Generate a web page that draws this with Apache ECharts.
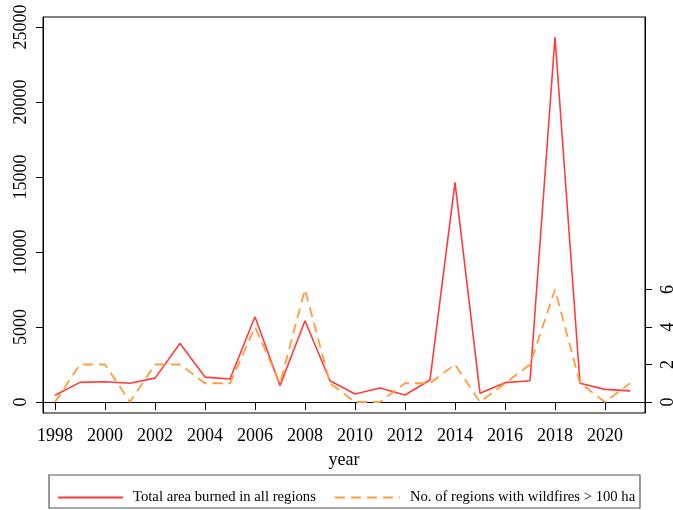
<!DOCTYPE html>
<html>
<head>
<meta charset="utf-8">
<script src="https://cdn.jsdelivr.net/npm/echarts@6/dist/echarts.min.js"></script>
<style>html,body{margin:0;padding:0;background:#fff;}#c{width:673px;height:510px;}</style>
</head>
<body>
<div id="c"></div>
<script>
const years = [1998,1999,2000,2001,2002,2003,2004,2005,2006,2007,2008,2009,2010,2011,2012,2013,2014,2015,2016,2017,2018,2019,2020,2021];
const areaBurned = [450,1310,1350,1250,1590,3900,1660,1530,5680,1090,5420,1420,530,930,470,1470,14640,580,1290,1420,24330,1250,840,740];
const regionsOver100 = [0,2,2,0,2,2,1,1,4,1,6,1,0,0,1,1,2,0,1,2,6,1,0,1];
const xTicks = [1998,2000,2002,2004,2006,2008,2010,2012,2014,2016,2018,2020];
const leftTicks = [0,5000,10000,15000,20000,25000];
const rightTicks = [0,2,4,6];
const seriesNames = ['Total area burned in all regions','No. of regions with wildfires > 100 ha'];

const font = 'Liberation Serif';
const chart = echarts.init(document.getElementById('c'), null, {renderer:'canvas'});
chart.setOption({
  animation:false,
  backgroundColor:'#fff',
  grid:{left:43,right:28,top:17,bottom:97,show:true,borderColor:'#000',borderWidth:1,containLabel:false,outerBoundsMode:'none'},
  xAxis:{type:'value',min:1997.52,max:2021.6,
    name:'year',nameLocation:'middle',nameGap:38,nameTextStyle:{fontFamily:font,fontSize:18,color:'#000'},
    splitLine:{show:false},axisLine:{show:true,lineStyle:{color:'#000'}},
    axisTick:{show:true,length:8,customValues:xTicks,lineStyle:{color:'#000'}},
    axisLabel:{customValues:xTicks,fontFamily:font,fontSize:18,color:'#000',margin:14,formatter:v=>String(v)}},
  yAxis:[
    {type:'value',min:-733.33,max:25666.67,position:'left',
      splitLine:{show:false},axisLine:{show:true,lineStyle:{color:'#000'}},
      axisTick:{show:true,length:7,customValues:leftTicks,lineStyle:{color:'#000'}},
      axisLabel:{customValues:leftTicks,rotate:90,fontFamily:font,fontSize:18,color:'#000',margin:13,formatter:v=>String(v)}},
    {type:'value',min:-0.5867,max:20.533,position:'right',
      splitLine:{show:false},axisLine:{show:true,lineStyle:{color:'#000'}},
      axisTick:{show:true,length:7,customValues:rightTicks,lineStyle:{color:'#000'}},
      axisLabel:{customValues:rightTicks,rotate:90,fontFamily:font,fontSize:18,color:'#000',margin:14,formatter:v=>String(v)}}
  ],
  legend:{left:52,top:485,itemWidth:65,itemHeight:14,itemGap:18,
    itemStyle:{opacity:0},
    textStyle:{fontFamily:font,fontSize:14.7,color:'#000',padding:[0,0,0,5]},
    data:seriesNames},
  graphic:[{type:'rect',shape:{x:49,y:475,width:591,height:33},style:{fill:'none',stroke:'#555',lineWidth:1.2},silent:true}],
  series:[
    {name:seriesNames[0],type:'line',yAxisIndex:0,symbol:'none',
      lineStyle:{color:'#ff3b3b',width:1.6},itemStyle:{color:'#ff3b3b'},
      data:years.map((y,i)=>[y,areaBurned[i]])},
    {name:seriesNames[1],type:'line',yAxisIndex:1,symbol:'none',
      lineStyle:{color:'#ff9d3c',width:1.8,type:[10,6]},itemStyle:{color:'#ff9d3c'},
      data:years.map((y,i)=>[y,regionsOver100[i]])}
  ]
});
</script>
</body>
</html>
